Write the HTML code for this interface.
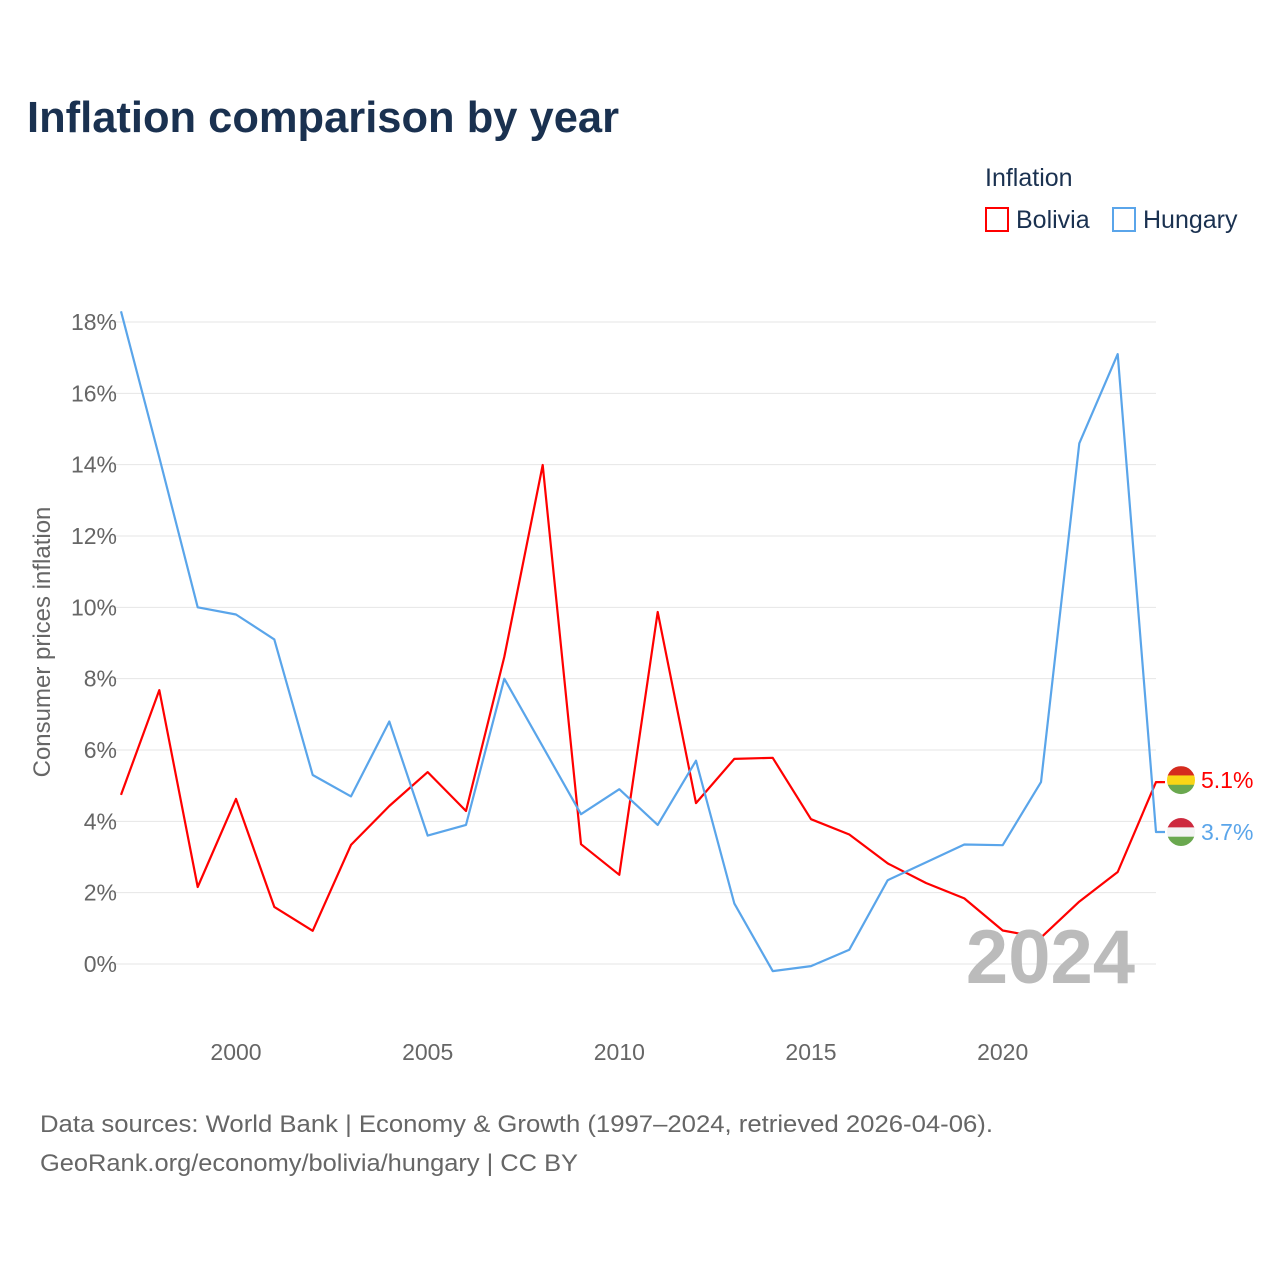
<!DOCTYPE html>
<html><head><meta charset="utf-8">
<style>
body{margin:0;background:#fff;font-family:"Liberation Sans",sans-serif;}
svg text{font-family:"Liberation Sans",sans-serif;}
</style></head>
<body>
<svg id="chart" width="1280" height="1280" viewBox="0 0 1280 1280" xmlns="http://www.w3.org/2000/svg">
<rect width="1280" height="1280" fill="#fff"/>
<text x="27" y="132" font-size="44" font-weight="bold" fill="#1a3150" textLength="592" lengthAdjust="spacingAndGlyphs">Inflation comparison by year</text>
<text x="985" y="186" font-size="25" fill="#1a3150">Inflation</text>
<g>
<rect x="986" y="208" width="22" height="23" fill="none" stroke="#ff0000" stroke-width="2"/>
<text x="1016" y="228" font-size="25" fill="#1a3150">Bolivia</text></g>
<g>
<rect x="1113" y="208" width="22" height="23" fill="none" stroke="#5aa5ea" stroke-width="2"/>
<text x="1143" y="228" font-size="25" fill="#1a3150">Hungary</text></g>
<text transform="translate(50,642) rotate(-90)" text-anchor="middle" font-size="24" fill="#666">Consumer prices inflation</text>
<g id="grid"></g>
<g id="marks"></g>
<text x="1135" y="983" text-anchor="end" font-size="76" font-weight="bold" fill="#bbb">2024</text>
<text x="40" y="1132" font-size="24" fill="#666" textLength="953" lengthAdjust="spacingAndGlyphs">Data sources: World Bank | Economy &amp; Growth (1997–2024, retrieved 2026-04-06).</text>
<text x="40" y="1171" font-size="24" fill="#666" textLength="538" lengthAdjust="spacingAndGlyphs">GeoRank.org/economy/bolivia/hungary | CC BY</text>
</svg>
<script>
const years=[1997,1998,1999,2000,2001,2002,2003,2004,2005,2006,2007,2008,2009,2010,2011,2012,2013,2014,2015,2016,2017,2018,2019,2020,2021,2022,2023,2024];
const bolivia=[4.74,7.68,2.16,4.63,1.60,0.93,3.34,4.43,5.38,4.29,8.61,13.99,3.36,2.50,9.87,4.51,5.75,5.78,4.06,3.63,2.82,2.27,1.84,0.94,0.74,1.75,2.58,5.1];
const hungary=[18.3,14.2,10.0,9.8,9.1,5.3,4.7,6.8,3.6,3.9,8.0,6.1,4.2,4.9,3.9,5.7,1.7,-0.2,-0.06,0.4,2.35,2.85,3.35,3.33,5.1,14.6,17.1,3.7];
const yTicks=[0,2,4,6,8,10,12,14,16,18];
const xTicks=[2000,2005,2010,2015,2020];
const NS="http://www.w3.org/2000/svg";
const x=v=>121+(v-1997)*(1156-121)/27;
const y=v=>964-v*(964-322)/18;
const grid=document.getElementById('grid'),marks=document.getElementById('marks');
function mk(t,a,p){const e=document.createElementNS(NS,t);for(const k in a)e.setAttribute(k,a[k]);p.appendChild(e);return e;}
yTicks.forEach(t=>{
 const l=mk('line',{x1:112,x2:1156,y1:y(t),y2:y(t),stroke:'#e6e6e6','stroke-width':1},grid);
 
 
 const tx=mk('text',{x:117,y:y(t)+8,'text-anchor':'end','font-size':23,fill:'#666'},grid);
 tx.textContent=t+'%';
 
 
});
xTicks.forEach(t=>{
 const tx=mk('text',{x:x(t),y:1060,'text-anchor':'middle','font-size':23,fill:'#666'},grid);
 tx.textContent=t;
 
 
});
function series(vals,color,name,labelDy,flag){
 let d=vals.map((v,i)=>(i?'L':'M')+x(years[i]).toFixed(1)+','+y(v).toFixed(1)).join('');
 const last=vals[vals.length-1];
 d+='L'+(x(2024)+9)+','+y(last).toFixed(1);
 const p=mk('path',{d:d,fill:'none',stroke:color,'stroke-width':2.2,'stroke-linejoin':'round'},marks);
 
 
 const cy=y(last)+labelDy;
 const g=mk('g',{},marks);
 
 
 const cl=mk('clipPath',{id:'c'+name},g);
 mk('circle',{cx:1181,cy:cy,r:14},cl);
 flag.forEach((c,i)=>mk('rect',{x:1167,y:cy-14+i*28/3,width:28,height:28/3+0.5,fill:c,'clip-path':'url(#c'+name+')'},g));
 const tx=mk('text',{x:1201,y:cy+8,'font-size':23,fill:color},marks);
 tx.textContent=last.toFixed(1)+'%';
 
 
}
series(bolivia,'#ff0000','bolivia',-2,['#d52b1e','#f9d616','#6aa84f']);
series(hungary,'#5aa5ea','hungary',0,['#cd2a3e','#f4f4f4','#6aa84f']);
</script>
</body></html>
